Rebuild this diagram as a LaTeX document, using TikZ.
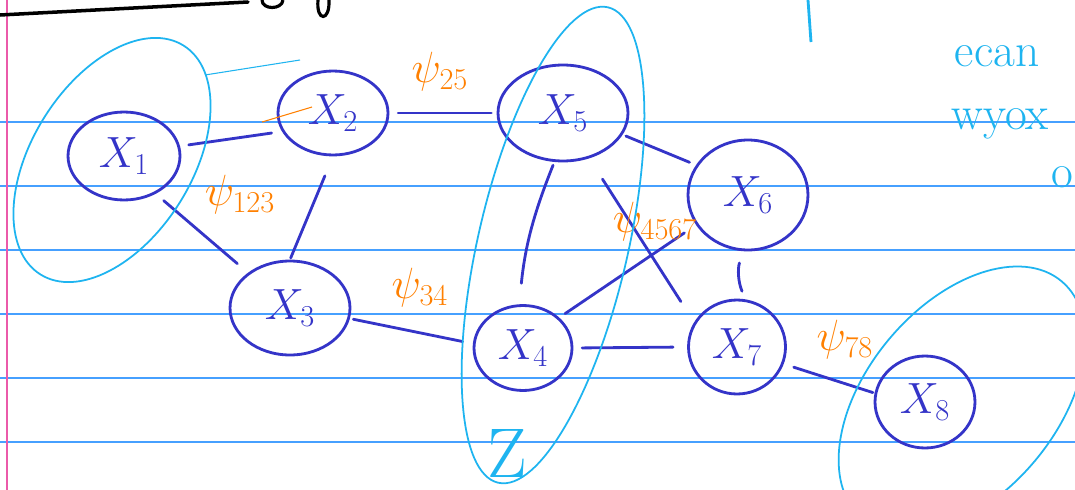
\documentclass[tikz,border=0pt]{standalone}
\usepackage{tikz}
\usetikzlibrary{shapes.geometric}

\definecolor{ink}{RGB}{52,52,200}
\definecolor{hilite}{RGB}{30,180,240}
\definecolor{potorange}{RGB}{255,128,0}
\definecolor{ruling}{RGB}{70,160,255}
\definecolor{marginpink}{RGB}{235,90,170}

\begin{document}
\begin{tikzpicture}[
    x=0.02cm, y=-0.02cm,
    var/.style    = {draw=ink, ellipse, line width=1.6pt, text=ink, inner sep=0pt,
                     font=\fontsize{27}{29}\selectfont},
    link/.style   = {draw=ink, line width=1.6pt, line cap=round},
    hull/.style   = {draw=hilite, line width=1pt},
    factor/.style = {text=potorange, font=\fontsize{24}{26}\selectfont},
    note/.style   = {text=hilite, font=\fontsize{27}{29}\selectfont},
]

% --- paper ---
\fill[white] (0,0) rectangle (1075,490);
\useasboundingbox (0,0) rectangle (1075,490);
\clip (0,0) rectangle (1075,490);
\foreach \y in {122,186,250,314,378,442}
    \draw[ruling, line width=0.8pt] (0,\y) -- (1075,\y);
\draw[marginpink, line width=0.8pt] (7,0) -- (7,490);

% --- bits of the line above ---
\draw[black, line width=2pt, line cap=round] (0,15) -- (248,2);
\draw[black, line width=1.8pt] (262,0) .. controls (262,10) and (282,10) .. (283,0);
\draw[black, line width=1.8pt] (318,0) .. controls (316,22) and (330,22) .. (329,0);
\draw[hilite, line width=1.6pt] (808,0) -- (811,42);

% --- variables ---
\node[var, minimum width=2.24cm, minimum height=1.76cm] (x1) at (124,156) {$X_1$};
\node[var, minimum width=2.2cm,  minimum height=1.68cm] (x2) at (333,113) {$X_2$};
\node[var, minimum width=2.6cm,  minimum height=1.92cm] (x5) at (563,113) {$X_5$};
\node[var, minimum width=2.4cm,  minimum height=2.2cm]  (x6) at (748,195) {$X_6$};
\node[var, minimum width=2.4cm,  minimum height=1.88cm] (x3) at (290,308) {$X_3$};
\node[var, minimum width=1.96cm, minimum height=1.7cm]  (x4) at (523,348) {$X_4$};
\node[var, minimum width=1.94cm, minimum height=1.88cm] (x7) at (737,347) {$X_7$};
\node[var, minimum width=2.0cm,  minimum height=1.84cm] (x8) at (925,402) {$X_8$};

% --- edges ---
\draw[link, shorten <=5pt, shorten >=6pt] (x1.10) -- (x2.200);
\draw[link, shorten <=6pt, shorten >=8pt] (x1.-50) -- (x3.140);
\draw[link, shorten <=12pt, shorten >=1pt] (x2.south) -- (x3.north);
\draw[link, shorten <=5pt, shorten >=3pt] (x2.east) -- (x5.west);
\draw[link, shorten <=2pt, shorten >=6pt] (x3.-10) -- (x4.175);
\draw[link, shorten <=2pt, shorten >=4pt] (x5.-20) -- (x6.150);
\draw[link, shorten <=2pt, shorten >=12pt] (x5.-100) to[bend right=8] (x4.95);
\draw[link, shorten <=14pt, shorten >=14pt] (x5.-60) -- (x7.150);
\draw[link, shorten <=4pt, shorten >=8pt] (x4.40) -- (x6.210);
\draw[link, shorten <=7pt, shorten >=5pt] (x6.-95) to[bend right=20] (x7.80);
\draw[link, shorten <=5pt, shorten >=8pt] (x4.east) -- (x7.west);
\draw[link, shorten <=6pt, shorten >=1pt] (x7.-20) -- (x8.170);

% --- factors ---
\node[factor] (p25)   at (440,72)  {$\psi_{25}$};
\node[factor] (p123)  at (240,195) {$\psi_{123}$};
\node[factor] (p34)   at (420,288) {$\psi_{34}$};
\node[factor] (p4567) at (655,222) {$\psi_{4567}$};
\node[factor] (p78)   at (845,340) {$\psi_{78}$};
\draw[potorange, line width=0.6pt] (262,122) -- (312,107);

% --- highlighted sets ---
\draw[hull, rotate around={58:(112,160)}] (112,160) ellipse [x radius=2.7cm, y radius=1.6cm];
\draw[hull, line width=0.6pt] (205,75) -- (300,60);
\draw[hull, rotate around={77:(553,245)}] (553,245) ellipse [x radius=4.88cm, y radius=1.5cm];
\draw[hull, rotate around={50:(962,400)}] (962,400) ellipse [x radius=3.1cm, y radius=1.9cm];
\node[note, font=\fontsize{40}{40}\selectfont] (zset) at (507,453) {Z};

% --- notes on the right ---
\node[note] (w1) at (997,56)  {ecan};
\node[note] (w2) at (1000,124) {wyox};
\node[note] (w3) at (1062,177) {o};

\end{tikzpicture}
\end{document}
